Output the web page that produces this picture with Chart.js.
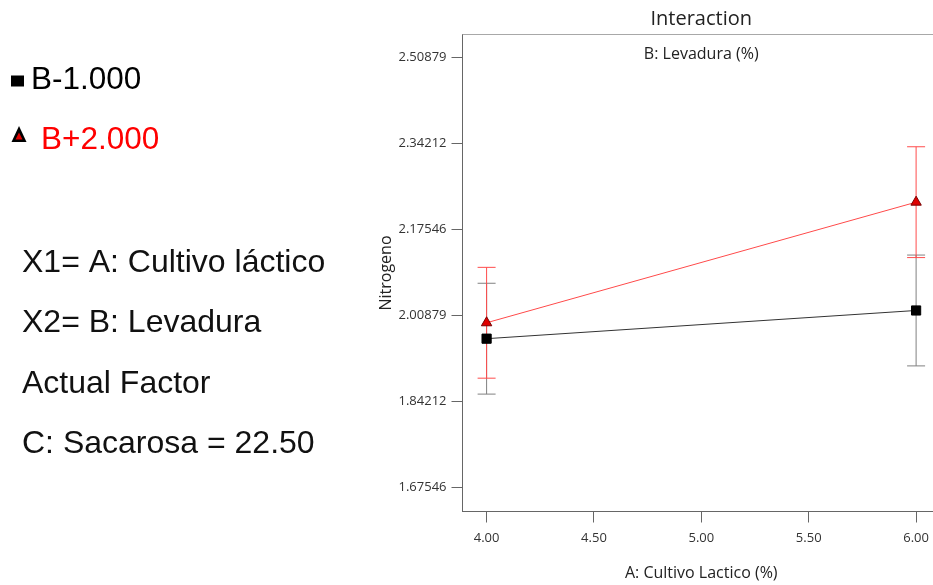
<!DOCTYPE html>
<html>
<head>
<meta charset="utf-8">
<title>Interaction</title>
<script src="https://cdn.jsdelivr.net/npm/chart.js@4.4.1/dist/chart.umd.min.js"></script>
<style>
  html, body { margin: 0; padding: 0; background: #ffffff; overflow: hidden; }
  #wrap { position: absolute; left: 0; top: 0; width: 950px; height: 585px; }
</style>
</head>
<body>
<div id="wrap"><canvas id="chart" width="950" height="585"></canvas></div>
<script>
// Factor A levels (x axis)
const cultivoLactico = [4.00, 6.00];
// Predicted Nitrogeno at B = -1.000 and B = +2.000
const nitrogenoBLow = [1.9640, 2.0186];
const nitrogenoBHigh = [1.9948, 2.2283];
// Half-width of the LSD bars around each prediction
const lsdBLow = [0.1073, 0.1073];
const lsdBHigh = [0.1073, 0.1073];
// Tick values
const yTickValues = [1.67546, 1.84212, 2.00879, 2.17546, 2.34212, 2.50879];
const xTickValues = [4.00, 4.50, 5.00, 5.50, 6.00];
// Side panel text
const seriesLabels = ['B-1.000', 'B+2.000'];
const factorLines = ['X1= A: Cultivo láctico', 'X2= B: Levadura', 'Actual Factor', 'C: Sacarosa = 22.50'];

const BLACK_LINE = '#333333';
const RED_LINE = '#ff4a4a';

function points(xs, ys) {
  return xs.map((x, i) => ({ x: x, y: ys[i] }));
}

// One two-point dataset per LSD bar; the 'line' point style draws the caps
function errorBars(xs, ys, half, color, order) {
  return xs.map((x, i) => ({
    data: [{ x: x, y: ys[i] - half[i] }, { x: x, y: ys[i] + half[i] }],
    showLine: true,
    borderColor: color,
    borderWidth: 1,
    pointStyle: 'line',
    pointRadius: 9,
    pointBorderColor: color,
    pointBorderWidth: 1,
    pointHoverRadius: 9,
    order: order
  }));
}

const datasets = [
  {
    label: seriesLabels[1],
    data: points(cultivoLactico, nitrogenoBHigh),
    showLine: true,
    borderColor: RED_LINE,
    borderWidth: 1,
    pointStyle: 'triangle',
    pointRadius: 6,
    pointBackgroundColor: '#e00000',
    pointBorderColor: '#7a0000',
    pointBorderWidth: 1,
    order: 1
  },
  {
    label: seriesLabels[0],
    data: points(cultivoLactico, nitrogenoBLow),
    showLine: true,
    borderColor: BLACK_LINE,
    borderWidth: 1,
    pointStyle: 'rect',
    pointRadius: 6.5,
    pointBackgroundColor: '#000000',
    pointBorderColor: '#000000',
    pointBorderWidth: 1,
    order: 2
  },
  ...errorBars(cultivoLactico, nitrogenoBHigh, lsdBHigh, '#ff4c4c', 3),
  ...errorBars(cultivoLactico, nitrogenoBLow, lsdBLow, '#808080', 4)
];

// Plot frame top edge, chart heading and the factor panel on the left
const decorations = {
  id: 'decorations',
  beforeDatasetsDraw(chart) {
    const { ctx, chartArea } = chart;
    ctx.save();
    ctx.strokeStyle = '#a8a8a8';
    ctx.lineWidth = 1;
    ctx.beginPath();
    ctx.moveTo(chartArea.left, chartArea.top);
    ctx.lineTo(chartArea.right, chartArea.top);
    ctx.moveTo(chartArea.right, chartArea.top);
    ctx.lineTo(chartArea.right, chartArea.bottom);
    ctx.stroke();
    ctx.restore();
  },
  afterDraw(chart) {
    const { ctx, chartArea } = chart;
    const cx = (chartArea.left + chartArea.right) / 2;
    ctx.save();
    ctx.textAlign = 'center';
    ctx.textBaseline = 'alphabetic';
    ctx.fillStyle = '#222222';
    ctx.font = '20px "Open Sans"';
    ctx.fillText('Interaction', cx, 25);
    ctx.font = '16px "Open Sans"';
    ctx.fillText('B: Levadura (%)', cx, 59);

    // Series key
    ctx.textAlign = 'left';
    ctx.fillStyle = '#000000';
    ctx.fillRect(11, 75.5, 13, 11);
    ctx.font = '31.5px "Liberation Sans", Arial, sans-serif';
    ctx.fillText(seriesLabels[0], 31, 88.5);

    ctx.beginPath();
    ctx.moveTo(19, 126);
    ctx.lineTo(26.5, 142);
    ctx.lineTo(11.5, 142);
    ctx.closePath();
    ctx.fillStyle = '#000000';
    ctx.fill();
    ctx.beginPath();
    ctx.moveTo(19, 132.5);
    ctx.lineTo(22.5, 139.5);
    ctx.lineTo(15.5, 139.5);
    ctx.closePath();
    ctx.fillStyle = '#e00000';
    ctx.fill();
    ctx.fillStyle = '#ff0000';
    ctx.fillText(seriesLabels[1], 41, 148.5);

    // Factor description
    ctx.fillStyle = '#111111';
    ctx.font = '32px "Liberation Sans", Arial, sans-serif';
    const baselines = [272, 332, 392.5, 453];
    factorLines.forEach((t, i) => ctx.fillText(t, 22, baselines[i]));
    ctx.restore();
  }
};

new Chart(document.getElementById('chart'), {
  type: 'scatter',
  data: { datasets: datasets },
  options: {
    responsive: false,
    animation: false,
    devicePixelRatio: 1,
    layout: { padding: { left: 370, right: 8, top: 34.5, bottom: 0 } },
    plugins: {
      legend: { display: false },
      tooltip: { enabled: false },
      title: { display: false }
    },
    scales: {
      x: {
        type: 'linear',
        min: 3.8878,
        max: 6.1113,
        afterBuildTicks(scale) { scale.ticks = xTickValues.map(v => ({ value: v })); },
        afterFit(scale) { scale.height = 73.5; },
        ticks: {
          callback: v => Number(v).toFixed(2),
          color: '#333333',
          font: { family: 'Open Sans', size: 13 },
          padding: 8,
          maxRotation: 0,
          autoSkip: false
        },
        grid: { drawOnChartArea: false, drawTicks: true, tickLength: 11, color: '#666666' },
        border: { display: true, color: '#666666', width: 1 },
        title: {
          display: true,
          text: 'A: Cultivo Lactico (%)',
          color: '#222222',
          font: { family: 'Open Sans', size: 16 },
          padding: { top: 0, bottom: 2 }
        }
      },
      y: {
        type: 'linear',
        min: 1.62938,
        max: 2.55294,
        afterBuildTicks(scale) { scale.ticks = yTickValues.map(v => ({ value: v })); },
        afterFit(scale) { scale.width = 92.5; },
        ticks: {
          callback: v => Number(v).toFixed(5),
          color: '#333333',
          font: { family: 'Open Sans', size: 13 },
          padding: 5,
          autoSkip: false
        },
        grid: { drawOnChartArea: false, drawTicks: true, tickLength: 11, color: '#666666' },
        border: { display: true, color: '#666666', width: 1 },
        title: {
          display: true,
          text: 'Nitrogeno',
          color: '#222222',
          font: { family: 'Open Sans', size: 16 },
          padding: { top: 7, bottom: 0 }
        }
      }
    }
  },
  plugins: [decorations]
});
</script>
</body>
</html>
